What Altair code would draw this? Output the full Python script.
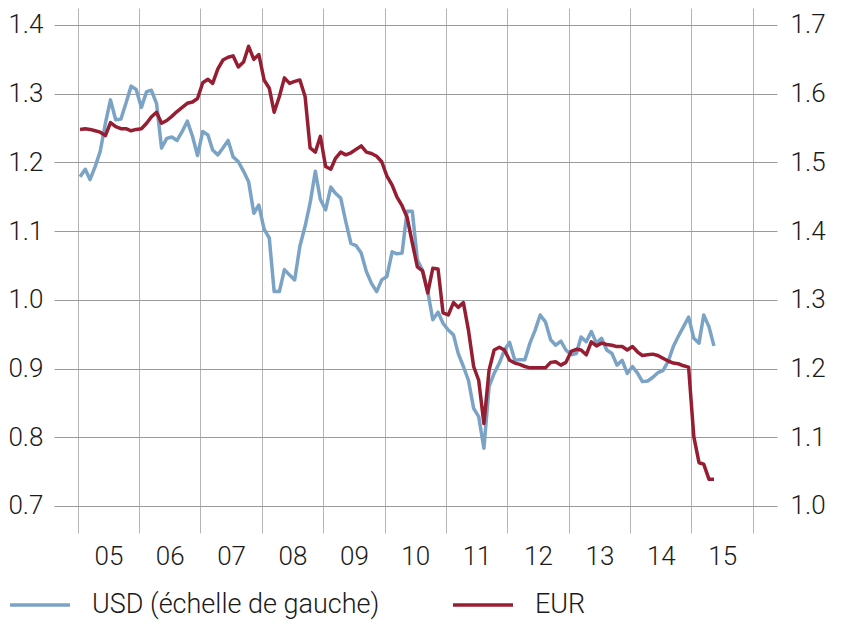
import altair as alt
import pandas as pd

# Monthly observations, Jan 2005 .. May 2015 (mid-month)
months = [f"{2005 + k // 12}-{k % 12 + 1:02d}-15" for k in range(125)]

usd = [
    1.179, 1.190, 1.175, 1.194, 1.216, 1.257, 1.291, 1.262, 1.263, 1.286, 1.311, 1.306,
    1.280, 1.303, 1.305, 1.286, 1.221, 1.235, 1.237, 1.232, 1.245, 1.260, 1.238, 1.210,
    1.245, 1.240, 1.218, 1.211, 1.221, 1.232, 1.208, 1.201, 1.187, 1.172, 1.126, 1.138,
    1.103, 1.090, 1.012, 1.012, 1.044, 1.036, 1.029, 1.078, 1.107, 1.141, 1.187, 1.146,
    1.131, 1.164, 1.155, 1.148, 1.114, 1.082, 1.079, 1.068, 1.041, 1.024, 1.012, 1.029,
    1.034, 1.070, 1.067, 1.068, 1.129, 1.129, 1.058, 1.043, 1.012, 0.971, 0.982, 0.966,
    0.956, 0.949, 0.922, 0.903, 0.883, 0.842, 0.830, 0.784, 0.874, 0.893, 0.908, 0.927,
    0.938, 0.912, 0.913, 0.913, 0.937, 0.956, 0.978, 0.968, 0.942, 0.934, 0.940, 0.927,
    0.920, 0.922, 0.946, 0.939, 0.954, 0.937, 0.944, 0.927, 0.922, 0.905, 0.912, 0.893,
    0.903, 0.893, 0.881, 0.882, 0.887, 0.894, 0.897, 0.910, 0.932, 0.947, 0.961, 0.975,
    0.944, 0.937, 0.978, 0.961, 0.933,
]

eur = [
    1.548, 1.549, 1.548, 1.546, 1.544, 1.539, 1.558, 1.552, 1.549, 1.549, 1.546, 1.548,
    1.549, 1.557, 1.566, 1.573, 1.557, 1.561, 1.567, 1.574, 1.580, 1.586, 1.588, 1.593,
    1.616, 1.621, 1.615, 1.636, 1.649, 1.653, 1.655, 1.639, 1.646, 1.669, 1.650, 1.657,
    1.620, 1.608, 1.573, 1.596, 1.623, 1.615, 1.618, 1.620, 1.596, 1.521, 1.515, 1.538,
    1.494, 1.490, 1.506, 1.515, 1.511, 1.514, 1.519, 1.524, 1.515, 1.513, 1.509, 1.501,
    1.480, 1.467, 1.450, 1.437, 1.420, 1.383, 1.348, 1.342, 1.310, 1.346, 1.345, 1.281,
    1.278, 1.296, 1.289, 1.296, 1.256, 1.203, 1.183, 1.120, 1.198, 1.227, 1.231, 1.227,
    1.212, 1.208, 1.206, 1.203, 1.201, 1.201, 1.201, 1.201, 1.209, 1.210, 1.205, 1.209,
    1.225, 1.228, 1.227, 1.220, 1.239, 1.233, 1.237, 1.235, 1.234, 1.232, 1.232, 1.227,
    1.232, 1.224, 1.219, 1.220, 1.221, 1.219, 1.215, 1.211, 1.208, 1.207, 1.204, 1.202,
    1.101, 1.063, 1.061, 1.039, 1.039,
]

series_names = ["USD (échelle de gauche)", "EUR"]
series_colors = ["#7ba3c5", "#961e32"]
left_ticks = [0.7, 0.8, 0.9, 1.0, 1.1, 1.2, 1.3, 1.4]
right_ticks = [1.0, 1.1, 1.2, 1.3, 1.4, 1.5, 1.6, 1.7]
years = list(range(2005, 2017))

df = pd.DataFrame({
    "date": months * 2,
    "value": usd + eur,
    "series": [series_names[0]] * len(usd) + [series_names[1]] * len(eur),
})

FONT = "Roboto"
x_enc = alt.X(
    "date:T",
    scale=alt.Scale(domain=[alt.DateTime(year=2004, month=8, date=13),
                            alt.DateTime(year=2016, month=5, date=24)]),
    axis=alt.Axis(
        values=[alt.DateTime(year=y, month=1, date=1) for y in years],
        labelExpr="year(datum.value) < 2016 ? timeFormat(datum.value, '%y') : ''",
        labelOffset=30.7,
        grid=True, gridColor="#b4b4b4", gridWidth=1,
        ticks=False, domain=False, title=None,
        labelPadding=10, labelFontSize=26, labelFont=FONT, labelFontWeight=300,
        labelColor="#1a1a1a",
    ),
)

color_enc = alt.Color(
    "series:N",
    scale=alt.Scale(domain=series_names, range=series_colors),
    legend=alt.Legend(
        title=None, orient="none", legendX=-46, legendY=565,
        direction="horizontal", symbolType="stroke", symbolSize=3600,
        symbolStrokeWidth=3.5, labelFontSize=27, labelFont=FONT, labelFontWeight=300,
        labelColor="#1a1a1a", labelOffset=20, columnPadding=66, padding=0,
        symbolOpacity=1, labelLimit=400,
    ),
)

usd_line = alt.Chart(df).transform_filter(
    alt.datum.series == series_names[0]
).mark_line(strokeWidth=3.5, strokeJoin="round").encode(
    x=x_enc,
    y=alt.Y("value:Q",
            scale=alt.Scale(domain=[0.6607, 1.4247], nice=False, zero=False),
            axis=alt.Axis(values=left_ticks, format=".1f", orient="left",
                          grid=True, gridColor="#9a9a9a", gridWidth=1,
                          ticks=False, domain=False, title=None,
                          labelPadding=11, labelFontSize=26, labelFont=FONT,
                          labelFontWeight=300, labelColor="#1a1a1a")),
    color=color_enc,
)

eur_line = alt.Chart(df).transform_filter(
    alt.datum.series == series_names[1]
).mark_line(strokeWidth=3.5, strokeJoin="round").encode(
    x=x_enc,
    y=alt.Y("value:Q",
            scale=alt.Scale(domain=[0.9607, 1.7247], nice=False, zero=False),
            axis=alt.Axis(values=right_ticks, format=".1f", orient="right",
                          grid=False, ticks=False, domain=False, title=None,
                          labelPadding=13, labelFontSize=26, labelFont=FONT,
                          labelFontWeight=300, labelColor="#1a1a1a")),
    color=color_enc,
)

chart = alt.layer(usd_line, eur_line).resolve_scale(
    y="independent"
).properties(
    width=723, height=525,
    autosize=alt.AutoSizeParams(type="none"),
    padding={"left": 46, "top": 0, "right": 56, "bottom": 92},
).configure_view(stroke=None)

chart.save("out.html", embed_options={"renderer": "svg", "actions": False})
